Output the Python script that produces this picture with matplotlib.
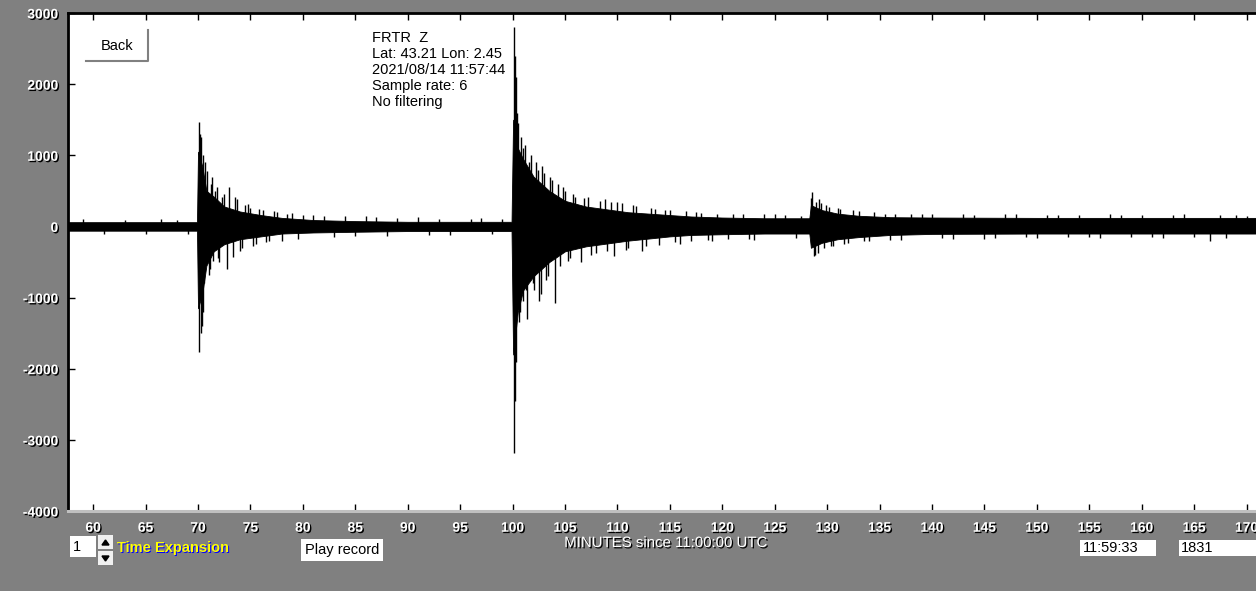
import matplotlib
matplotlib.use("Agg")
import matplotlib.pyplot as plt
import matplotlib.patheffects as pe
from matplotlib.patches import Rectangle, Polygon

plt.rcParams["axes.unicode_minus"] = False

# envelope of the dense trace body (minutes since 11:00, counts)
body_t = [57.6, 69.9, 70.0, 70.4, 70.8, 71.5, 72.5, 74, 76, 78, 81, 85, 90, 99.9,
          100.05, 100.5, 101, 102, 103.5, 105, 107, 109, 111, 113, 115, 117, 120, 124,
          128.3, 128.45, 129.5, 131, 133, 136, 140, 150, 160, 171]
body_hi = [60, 60, 1050, 850, 500, 420, 280, 210, 160, 120, 90, 75, 65, 65,
           1500, 1100, 950, 700, 500, 360, 280, 240, 200, 180, 160, 140, 125, 115,
           115, 300, 230, 180, 150, 130, 125, 120, 120, 120]
body_lo = [-60, -60, -1150, -950, -550, -350, -250, -180, -140, -100, -85, -75, -65, -65,
           -1800, -1200, -900, -700, -500, -350, -280, -240, -200, -170, -140, -120, -110, -100,
           -100, -300, -230, -180, -150, -120, -105, -100, -100, -100]

# individual peaks standing out of the body
spike_t = [59, 61, 63, 65, 66.5, 68, 69,
           70.05, 70.1, 70.15, 70.2, 70.25, 70.3, 70.35, 70.45, 70.5, 70.6, 70.7, 70.9, 71.0,
           71.1, 71.2, 71.3, 71.4, 71.6, 71.8, 71.9, 72.0, 72.3, 72.5, 72.8, 73.0, 73.3, 73.5,
           73.7, 74.0, 74.2, 74.5, 74.8, 75.0, 75.2, 75.5, 75.8, 76.2, 76.5, 76.8, 77.2, 77.5,
           78, 78.5, 79, 79.5, 80, 81, 82, 83, 84, 85, 86, 87, 88, 89, 91, 92, 93, 94, 96, 97,
           98, 99,
           100.1, 100.15, 100.2, 100.25, 100.3, 100.35, 100.4, 100.5, 100.6, 100.7, 100.8,
           100.95, 101.0, 101.2, 101.3, 101.4, 101.6, 101.8, 101.9, 102.0, 102.2, 102.4, 102.5,
           102.7, 102.8, 103.0, 103.2, 103.4, 103.6, 103.8, 104.0, 104.3, 104.5, 104.8, 105.0,
           105.3, 105.5, 105.8, 106.0, 106.5, 106.8, 107.2, 107.5, 108, 108.3, 108.8, 109.0,
           109.4, 109.7, 110, 110.4, 110.8, 111.0, 111.5, 111.8, 112.3, 112.7, 113.2, 113.6,
           114, 114.5, 115, 115.5, 116, 116.5, 117, 117.5, 118, 118.6, 119, 119.5, 120.5, 121,
           122, 122.5, 123, 124, 125, 126, 127, 127.5,
           128.5, 128.6, 128.7, 128.8, 128.9, 129.1, 129.2, 129.4, 129.7, 129.9, 130.2, 130.4,
           130.6, 131.0, 131.2, 131.6, 132, 132.5, 133, 133.5, 134, 134.5, 135.5, 136, 136.5,
           137, 138, 139, 140, 141, 142, 143, 144, 145, 146, 147, 148, 149, 150, 151, 152, 153,
           154, 155, 156, 157, 158, 159, 160, 161, 162, 163, 164, 165, 166.5, 167.5, 168, 169,
           170]
spike_v = [100, -100, 90, -100, 100, 90, -110,
           1470, -1760, 1100, 1300, -1500, 1250, -1400, -1200, 1000, -800, 900, 780, -680,
           -600, 600, 700, -480, 500, 550, -440, -500, 420, 450, -600, 560, -430, 420,
           380, -350, -300, 300, 320, 260, -280, -250, 250, 230, -220, -200, 220, 200,
           -200, 180, 190, -170, 160, 160, 140, -150, 150, -140, 140, 130, -130, 120, 130, -120,
           110, -120, 110, 120, -110, 110,
           2800, -3180, 2400, -2450, 2100, -1900, 1600, 1450, -1350, -1200, 1250,
           -1050, 1100, 1150, -900, -1300, 900, 1000, -800, -900, 900, 800, -1050,
           -950, 850, 750, -750, -700, 700, 650, -1080, 600, -550, 550, 500,
           -480, -450, 450, 420, -500, 400, 420, -400, -380, 360, 380, -350,
           340, -420, 350, 330, -330, -300, 300, 290, -350, -280, 260, 250,
           -260, 230, 230, -220, -240, 210, -200, 200, 190, -190, -200, 180, -180, 180,
           170, -170, -190, 170, 170, 160, -160, 150,
           400, 480, -420, -400, 340, -380, 380, 330, -300, 300, 280, -280,
           -270, 260, 250, -240, -230, 230, 220, -210, -200, 200, 180, -190, 180,
           -190, 180, 170, 170, -160, -170, 170, 160, -170, -160, 170, 170, -150, -160, 160, 160,
           -150, 160, -150, -160, 170, 160, -150, 160, -150, -160, 160, 170, -150, -200, 160,
           -160, 160, 150]

xticks = list(range(60, 171, 5))
yticks = list(range(-4000, 3001, 1000))

info_lines = ["FRTR  Z", "Lat: 43.21 Lon: 2.45", "2021/08/14 11:57:44",
              "Sample rate: 6", "No filtering"]

W, H = 1256, 591
fig = plt.figure(figsize=(W / 100, H / 100), dpi=100)
fig.patch.set_facecolor("#808080")

ax = fig.add_axes([68 / W, 1 - 511 / H, 1 - 68 / W, (511 - 13) / H])
ax.set_facecolor("white")
ax.fill_between(body_t, body_lo, body_hi, color="black", lw=0.6)
ax.vlines(spike_t, 0, spike_v, color="black", lw=1.0)
ax.set_xlim(57.6, 170.9)
ax.set_ylim(-4000, 3000)

shadow = [pe.withSimplePatchShadow(offset=(1, -1), shadow_rgbFace="black", alpha=1.0)]
ax.set_xticks(xticks)
ax.set_yticks(yticks)
ax.tick_params(axis="both", direction="in", length=5, width=1, color="black",
               labelcolor="white", labelsize=10)
ax.tick_params(axis="x", top=True, pad=7)
ax.tick_params(axis="y", pad=7)
for lab in ax.get_xticklabels() + ax.get_yticklabels():
    lab.set_fontweight("bold")
    lab.set_family("Liberation Sans")
    lab.set_path_effects(shadow)

for s in ("top", "left"):
    ax.spines[s].set_linewidth(2)
    ax.spines[s].set_color("black")
ax.spines["bottom"].set_color("#c0c0c0")
ax.spines["bottom"].set_linewidth(2.2)
ax.spines["right"].set_visible(False)

# overlay in pixel coordinates for the buttons and captions
ov = fig.add_axes([0, 0, 1, 1], zorder=5)
ov.set_xlim(0, W)
ov.set_ylim(H, 0)
ov.axis("off")
ov.patch.set_alpha(0)

def box(x0, y0, x1, y1, fc="white", ec=None):
    ov.add_patch(Rectangle((x0, y0), x1 - x0, y1 - y0, facecolor=fc, edgecolor="none"))
    if ec:
        ov.plot([x0, x1, x1], [y1, y1, y0], color=ec, lw=1.5)

box(86, 30, 148, 61, ec="#808080")
ov.text(117, 46, "Back", ha="center", va="center", fontsize=10.5, family="Liberation Sans")

for i, line in enumerate(info_lines):
    ov.text(372, 38 + 16 * i, line, ha="left", va="center", fontsize=10.5,
            family="Liberation Sans")

ov.text(666, 543, "MINUTES since 11:00:00 UTC", ha="center", va="center", fontsize=10.8,
        color="white", family="Liberation Sans", path_effects=shadow)

box(70, 536, 96, 557)
ov.text(73, 547, "1", ha="left", va="center", fontsize=10.5, family="Liberation Sans")
box(98, 535, 113, 549, fc="#f0f0f0")
box(98, 551, 113, 565, fc="#f0f0f0")
ov.add_patch(Polygon([[102, 545], [109, 545], [105.5, 540]], color="black"))
ov.add_patch(Polygon([[102, 556], [109, 556], [105.5, 561]], color="black"))
ov.text(118, 549, "Time Expansion", ha="left", va="center", fontsize=10.5, color="#0000ff",
        family="Liberation Sans", fontweight="bold")
ov.text(117, 548, "Time Expansion", ha="left", va="center", fontsize=10.5, color="#ffff00",
        family="Liberation Sans", fontweight="bold")

box(301, 539, 383, 561)
ov.text(342, 550, "Play record", ha="center", va="center", fontsize=10.5,
        family="Liberation Sans")

box(1080, 540, 1156, 556)
ov.text(1083, 548, "11:59:33", ha="left", va="center", fontsize=10.5, family="Liberation Sans")
box(1179, 540, 1256, 556)
ov.text(1181, 548, "1831", ha="left", va="center", fontsize=10.5, family="Liberation Sans")

fig.savefig("out.png", dpi=100, facecolor=fig.get_facecolor())
